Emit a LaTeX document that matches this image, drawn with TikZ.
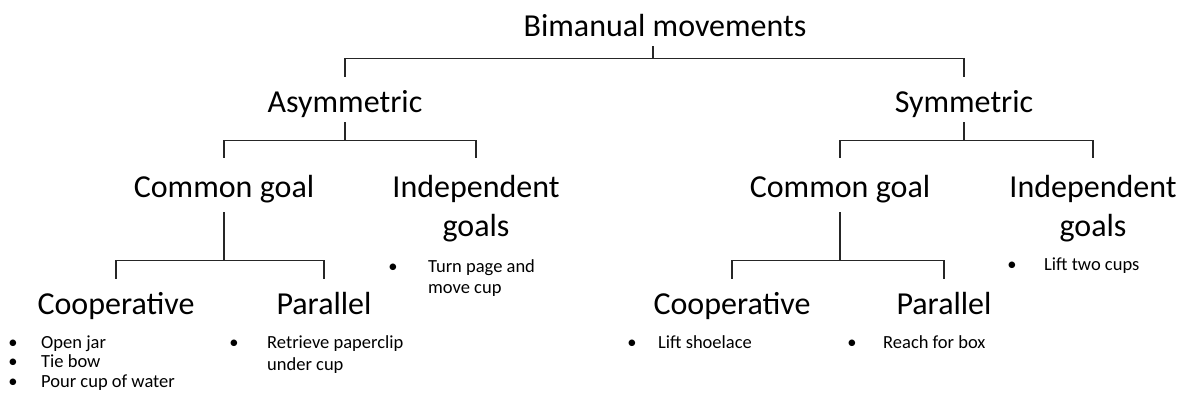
\documentclass[tikz,border=0pt]{standalone}
\usepackage{fontspec}
\setmainfont{Carlito}
\begin{document}
\begin{tikzpicture}[x=1pt,y=-1pt]
\tikzset{
  lbl/.style={font=\fontsize{32}{41}\selectfont, inner sep=0pt, text height=24pt, text depth=9pt, anchor=base},
  itm/.style={font=\fontsize{18.5}{21}\selectfont, inner sep=0pt, anchor=base west},
  bul/.style={font=\fontsize{18.5}{21}\selectfont, inner sep=0pt, anchor=base},
  conn/.style={line width=1.3pt, draw=black!85}
}
\useasboundingbox (0,0) rectangle (1184,396);
% level 0
\node[lbl] (bim) at (665,37) {Bimanual movements};
% level 1
\node[lbl] (asym) at (345,113) {Asymmetric};
\node[lbl] (sym) at (964,113) {Symmetric};
% level 2 left
\node[lbl] (cgL) at (224,197) {Common goal};
\node[lbl] (igL) at (476,197) {Independent};
\node[lbl] (igL2) at (476,236) {goals};
% level 2 right
\node[lbl] (cgR) at (840,197) {Common goal};
\node[lbl] (igR) at (1093,197) {Independent};
\node[lbl] (igR2) at (1093,236) {goals};
% level 3
\node[lbl] (coL) at (116,314) {Cooperative};
\node[lbl] (paL) at (324,314) {Parallel};
\node[lbl] (coR) at (732,314) {Cooperative};
\node[lbl] (paR) at (944,314) {Parallel};
% items: cooperative left
\node[bul] (b1a) at (13,348) {•};
\node[itm] (t1a) at (41,348) {Open jar};
\node[bul] (b1b) at (13,367.5) {•};
\node[itm] (t1b) at (41,367.5) {Tie bow};
\node[bul] (b1c) at (13,387) {•};
\node[itm] (t1c) at (41,387) {Pour cup of water};
% parallel left
\node[bul] (b2) at (234,348) {•};
\node[itm] (t2a) at (267,348) {Retrieve paperclip};
\node[itm] (t2b) at (267,370) {under cup};
% independent left
\node[bul] (b3) at (393,272) {•};
\node[itm] (t3a) at (428,272) {Turn page and};
\node[itm] (t3b) at (428,293) {move cup};
% right side
\node[bul] (b4) at (632,348) {•};
\node[itm] (t4) at (658,348) {Lift shoelace};
\node[bul] (b5) at (852,348) {•};
\node[itm] (t5) at (883,348) {Reach for box};
\node[bul] (b6) at (1012,270) {•};
\node[itm] (t6) at (1044,270) {Lift two cups};
% connectors
\draw[conn] ([xshift=-12pt]bim.south) -- ++(0,12) coordinate (j0);
\draw[conn] ([yshift=12pt]asym.north) |- (j0) -| ([yshift=12pt]sym.north);
\draw[conn] (asym.south) -- ++(0,18) coordinate (j1);
\draw[conn] ([yshift=15pt]cgL.north) |- (j1) -| ([yshift=15pt]igL.north);
\draw[conn] (sym.south) -- ++(0,18) coordinate (j2);
\draw[conn] ([yshift=15pt]cgR.north) |- (j2) -| ([yshift=15pt]igR.north);
\draw[conn] ([yshift=-6pt]cgL.south) -- ++(0,48) coordinate (j3);
\draw[conn] ([yshift=11pt]coL.north) |- (j3) -| ([yshift=11pt]paL.north);
\draw[conn] ([yshift=-6pt]cgR.south) -- ++(0,48) coordinate (j4);
\draw[conn] ([yshift=11pt]coR.north) |- (j4) -| ([yshift=11pt]paR.north);
\end{tikzpicture}
\end{document}
